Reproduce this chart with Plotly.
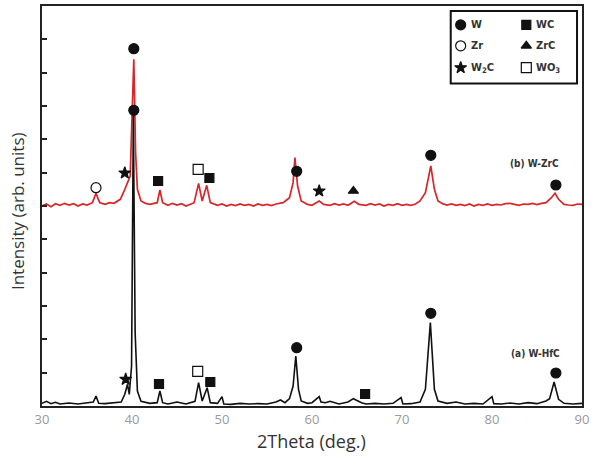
import plotly.graph_objects as go

# ---------------- data ----------------
# (a) W-HfC pattern (black), 2theta vs intensity (arb.)
two_theta_a = [30, 30.5, 31, 31.5, 32, 33, 34, 35, 35.7, 36, 36.3, 37, 38, 38.8, 39.2, 39.5, 39.7,
               39.95, 40.15, 40.35, 40.6, 41, 42, 42.8, 43.1, 43.4, 44, 45, 46, 47, 47.4, 47.8,
               48.35, 48.7, 49.5, 50, 50.2, 51, 52, 53, 54, 55, 56, 56.5, 57, 57.5, 57.9, 58.2,
               58.5, 58.8, 59.5, 60, 60.8, 61, 61.5, 62, 63, 64, 64.6, 65, 65.5, 66, 67, 68, 69,
               69.9, 70.1, 71, 72, 72.6, 73.15, 73.6, 74, 75, 76, 77, 78, 79, 80, 80.2, 81, 82,
               83, 84, 85, 86, 86.4, 86.9, 87.4, 88, 89, 90]
intensity_a = [0.08, 0.14, 0.07, 0.11, 0.06, 0.09, 0.06, 0.1, 0.12, 0.3, 0.08, 0.07, 0.09, 0.12, 0.35,
               0.65, 0.35, 1.2, 8.7, 2.2, 0.45, 0.14, 0.08, 0.1, 0.45, 0.1, 0.06, 0.12, 0.06, 0.14,
               0.7, 0.15, 0.55, 0.1, 0.08, 0.28, 0.06, 0.05, 0.08, 0.06, 0.07, 0.06, 0.12, 0.18,
               0.1, 0.22, 0.6, 1.5, 0.5, 0.15, 0.08, 0.1, 0.28, 0.12, 0.1, 0.14, 0.06, 0.12, 0.22,
               0.16, 0.1, 0.06, 0.08, 0.06, 0.08, 0.25, 0.06, 0.07, 0.12, 0.5, 2.5, 0.5, 0.15, 0.08,
               0.12, 0.06, 0.08, 0.06, 0.28, 0.07, 0.06, 0.09, 0.06, 0.1, 0.07, 0.15, 0.22, 0.72,
               0.2, 0.08, 0.06, 0.08]

# (b) W-ZrC pattern (red), offset vertically
two_theta_b = [30, 30.5, 31, 31.5, 32, 32.5, 33, 33.5, 34, 34.5, 35, 35.6, 36, 36.4, 37, 37.5, 38,
               38.7, 39.2, 39.5, 39.8, 40.2, 40.4, 40.6, 41, 41.5, 42, 42.8, 43.1, 43.4, 44, 44.5,
               45, 45.5, 46, 46.9, 47.4, 47.8, 48.3, 48.7, 49.5, 50, 50.5, 51, 51.5, 52, 52.5, 53,
               53.5, 54, 54.5, 55, 55.5, 56, 56.8, 57.5, 57.9, 58.1, 58.4, 58.8, 59.5, 60, 60.8,
               61.3, 62, 62.5, 63, 63.5, 64, 64.7, 65.2, 66, 66.5, 67, 67.5, 68, 68.5, 69, 69.5, 70,
               70.5, 71, 71.5, 72, 72.6, 73.2, 73.6, 74, 74.5, 75, 75.5, 76, 76.5, 77, 77.5, 78,
               78.5, 79, 79.5, 80, 80.5, 81, 81.5, 82, 82.5, 83, 83.5, 84, 84.5, 85, 85.5, 86, 86.6,
               87.0, 87.4, 88, 88.5, 89, 89.5, 90]
intensity_b = [6.0, 6.06, 5.98, 6.07, 6.02, 6.08, 6.03, 6.07, 6.0, 6.06, 6.03, 6.1, 6.38, 6.1, 6.05,
               6.1, 6.08, 6.2, 6.5, 6.72, 6.9, 10.4, 7.6, 6.5, 6.15, 6.08, 6.05, 6.1, 6.48, 6.1, 6.02,
               6.08, 6.03, 6.07, 6.0, 6.1, 6.68, 6.15, 6.62, 6.1, 6.02, 6.06, 6.0, 6.05, 6.01,
               6.06, 6.02, 6.05, 6.0, 6.06, 6.02, 6.05, 6.01, 6.06, 6.1, 6.25, 6.7, 7.45, 6.6, 6.15,
               6.05, 6.02, 6.15, 6.05, 6.02, 6.07, 6.03, 6.06, 6.02, 6.14, 6.05, 6.02, 6.07, 6.03,
               6.06, 6.0, 6.05, 6.02, 6.07, 6.02, 6.05, 6.02, 6.06, 6.15, 6.4, 7.2, 6.5, 6.15, 6.07,
               6.03, 6.06, 6.02, 6.05, 6.01, 6.06, 6.0, 6.05, 6.02, 6.06, 6.02, 6.05, 6.03, 6.07,
               6.08, 6.04, 6.02, 6.06, 6.05, 6.08, 6.04, 6.08, 6.1, 6.25, 6.38, 6.2, 6.05, 6.03, 6.02,
               6.06, 6.05]

# phase identification marks (position, marker height)
W_x = [40.2, 40.2, 58.3, 73.2, 87.1, 58.3, 73.2, 87.1]
W_y = [10.72, 8.87, 7.04, 7.52, 6.63, 1.75, 2.78, 0.99]
WC_x = [42.9, 48.6, 43.0, 48.7, 65.9]
WC_y = [6.75, 6.84, 0.66, 0.72, 0.36]
Zr_x = [36.0]
Zr_y = [6.55]
ZrC_x = [64.6]
ZrC_y = [6.45]
W2C_x = [39.2, 60.8, 39.3]
W2C_y = [6.99, 6.45, 0.8]
WO3_x = [47.35, 47.3]
WO3_y = [7.1, 1.04]

phase_names = ["W", "WC", "Zr", "ZrC", "W<sub>2</sub>C", "WO<sub>3</sub>"]

x_ticks = [30, 40, 50, 60, 70, 80, 90]
y_ticks = list(range(1, 12))

# ---------------- figure ----------------
fig = go.Figure()
fig.add_trace(go.Scatter(x=two_theta_b, y=intensity_b, mode="lines",
                         line=dict(color="#d8262a", width=1.7), showlegend=False))
fig.add_trace(go.Scatter(x=two_theta_a, y=intensity_a, mode="lines",
                         line=dict(color="#111111", width=1.6), showlegend=False))

symbols = ["circle", "square", "circle-open", "triangle-up", "star", "square-open"]
sizes = [10, 9, 10, 9, 9, 10]
series = [(W_x, W_y), (WC_x, WC_y), (Zr_x, Zr_y), (ZrC_x, ZrC_y), (W2C_x, W2C_y), (WO3_x, WO3_y)]
for (xs, ys), sym, sz in zip(series, symbols, sizes):
    fig.add_trace(go.Scatter(x=xs, y=ys, mode="markers", showlegend=False,
                             marker=dict(symbol=sym, size=sz, color="#111111",
                                         line=dict(color="#111111", width=1.2))))

label_font = dict(family="DejaVu Sans Condensed", size=10, color="#333333")
fig.add_annotation(x=84.7, y=7.28, text="<b>(b) W-ZrC</b>", showarrow=False, font=label_font)
fig.add_annotation(x=84.8, y=1.58, text="<b>(a) W-HfC</b>", showarrow=False, font=label_font)

# legend box: overlay axes in pixel units of the plot area
fig.add_shape(type="rect", xref="x2", yref="y2", x0=453, x1=580, y0=82, y1=9,
              line=dict(color="#111111", width=2), fillcolor="white", layer="below")
leg_mx = [463, 529, 463, 529, 463, 529]
leg_tx = [471, 537, 471, 537, 471, 537]
leg_y = [23, 23, 44, 44, 66, 66]
for i, (sym, sz) in enumerate(zip(symbols, sizes)):
    fig.add_trace(go.Scatter(x=[leg_mx[i]], y=[leg_y[i]], xaxis="x2", yaxis="y2", mode="markers",
                             showlegend=False,
                             marker=dict(symbol=sym, size=sz, color="#111111",
                                         line=dict(color="#111111", width=1.2))))
    fig.add_annotation(xref="x2", yref="y2", x=leg_tx[i], y=leg_y[i],
                       text="<b>" + phase_names[i] + "</b>", showarrow=False,
                       xanchor="left", yanchor="middle",
                       font=dict(family="DejaVu Sans Condensed", size=11, color="#333333"))

# axis titles (paper coordinates)
def px(xp):
    return (xp - 42) / 543.0

def py(yp):
    return (406 - yp) / 402.0

fig.add_annotation(xref="paper", yref="paper", x=px(18), y=py(210), text="Intensity (arb. units)",
                   textangle=-90, showarrow=False, xanchor="center", yanchor="middle",
                   font=dict(family="Open Sans", size=17, color="#333333"))
fig.add_annotation(xref="paper", yref="paper", x=px(313), y=py(441), text="2Theta (deg.)",
                   showarrow=False, xanchor="center", yanchor="middle",
                   font=dict(family="Open Sans", size=18, color="#333333"))

fig.update_layout(
    width=593, height=456, margin=dict(l=42, r=8, t=4, b=50),
    plot_bgcolor="white", paper_bgcolor="white", showlegend=False,
    xaxis=dict(range=[30, 90], tickvals=x_ticks, ticktext=[str(v) for v in x_ticks],
               showgrid=False, zeroline=False, showline=True, mirror=True,
               linecolor="#222222", linewidth=1.8, ticks="",
               tickfont=dict(family="Open Sans", size=13, color="#999999")),
    yaxis=dict(range=[0, 12], tickvals=y_ticks, showticklabels=False, showgrid=False,
               zeroline=False, showline=True, mirror=True, linecolor="#222222", linewidth=1.8,
               ticks="inside", ticklen=5, tickcolor="#222222", tickwidth=1.5),
    xaxis2=dict(overlaying="x", range=[42, 585], visible=False, anchor="y2"),
    yaxis2=dict(overlaying="y", range=[406, 4], visible=False, anchor="x2"),
)

fig.write_html("out.html")
